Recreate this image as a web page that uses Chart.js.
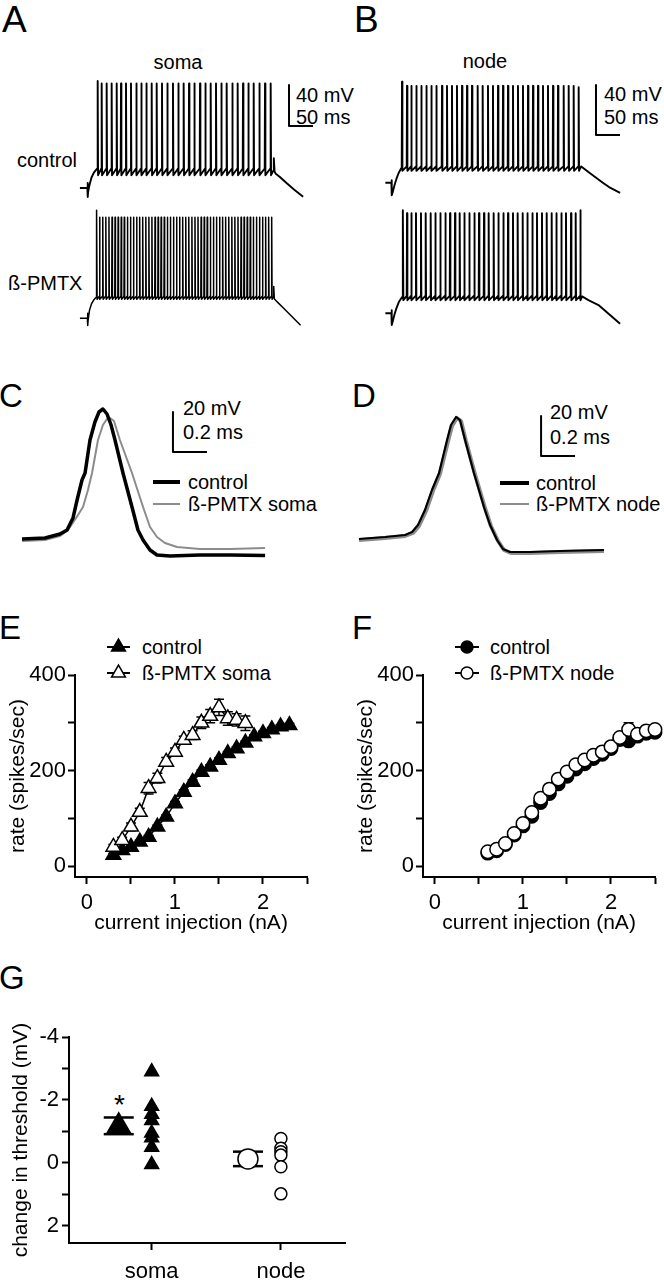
<!DOCTYPE html>
<html>
<head>
<meta charset="utf-8">
<script src="https://cdn.jsdelivr.net/npm/chart.js@4.4.1/dist/chart.umd.min.js"></script>
<style>
  body { margin: 0; background: #fff; }
  #fig { position: relative; width: 664px; height: 1280px; overflow: hidden;
         font-family: 'Liberation Sans', Arial, sans-serif; color: #000; background: #fff; }
  #fig canvas { position: absolute; }
  .t { position: absolute; font-size: 20px; line-height: 20px; white-space: nowrap; }
  .c { transform: translateX(-50%); }
  .p { position: absolute; font-size: 33px; line-height: 33px; }
  .sw { position: absolute; }
</style>
</head>
<body>
<div id="fig">
  <!-- panel letters -->
  <div class="p" style="left:2px;top:1px;font-size:37px;line-height:37px">A</div>
  <div class="p" style="left:354px;top:1px;font-size:37px;line-height:37px">B</div>
  <div class="p" style="left:-1px;top:379px">C</div>
  <div class="p" style="left:352px;top:379px">D</div>
  <div class="p" style="left:-1px;top:611px">E</div>
  <div class="p" style="left:352px;top:611px">F</div>
  <div class="p" style="left:-1px;top:961px">G</div>

  <!-- A / B labels -->
  <div class="t c" style="left:178px;top:52px">soma</div>
  <div class="t c" style="left:485px;top:51px">node</div>
  <div class="t" style="left:17px;top:150px">control</div>
  <div class="t" style="left:8px;top:273px">ß-PMTX</div>
  <div class="t" style="left:296px;top:85px">40 mV</div>
  <div class="t" style="left:296px;top:107px">50 ms</div>
  <div class="t" style="left:604px;top:84px">40 mV</div>
  <div class="t" style="left:604px;top:107px">50 ms</div>

  <!-- C / D labels -->
  <div class="t" style="left:183px;top:398px">20 mV</div>
  <div class="t" style="left:183px;top:422px">0.2 ms</div>
  <div class="sw" style="left:153px;top:480px;width:27px;height:4px;background:#000"></div>
  <div class="t" style="left:188px;top:472px">control</div>
  <div class="sw" style="left:153px;top:503px;width:27px;height:2px;background:#8c8c8c"></div>
  <div class="t" style="left:188px;top:494px">ß-PMTX soma</div>

  <div class="t" style="left:550px;top:402px">20 mV</div>
  <div class="t" style="left:550px;top:427px">0.2 ms</div>
  <div class="sw" style="left:500px;top:481px;width:29px;height:4px;background:#000"></div>
  <div class="t" style="left:536px;top:473px">control</div>
  <div class="sw" style="left:500px;top:503px;width:29px;height:2px;background:#8c8c8c"></div>
  <div class="t" style="left:536px;top:494px">ß-PMTX node</div>

  <!-- E / F legend text -->
  <div class="t" style="left:142px;top:637px">control</div>
  <div class="t" style="left:142px;top:663px">ß-PMTX soma</div>
  <div class="t" style="left:490px;top:637px">control</div>
  <div class="t" style="left:490px;top:663px">ß-PMTX node</div>

  <!-- G asterisk -->
  <div class="t" style="left:114px;top:1091px;font-size:28px;line-height:28px">*</div>

  <canvas id="cA" width="254" height="262" style="left:78px;top:70px"></canvas>
  <canvas id="cB" width="282" height="262" style="left:382px;top:70px"></canvas>
  <canvas id="cC" width="320" height="175" style="left:10px;top:395px"></canvas>
  <canvas id="cD" width="322" height="175" style="left:342px;top:395px"></canvas>
  <canvas id="cE" width="332" height="337" style="left:0px;top:600px"></canvas>
  <canvas id="cF" width="316" height="337" style="left:348px;top:600px"></canvas>
  <canvas id="cG" width="360" height="280" style="left:0px;top:1000px"></canvas>
</div>

<script>
// ---------- A / B : spike trains (ms, mV) ----------
const somaCtlSpikes = [21.0, 29.3, 39.7, 50.1, 60.6, 69.6, 80.0, 90.4, 101.5, 111.9, 122.4, 133.5,
  143.9, 155.0, 166.1, 177.9, 189.0, 200.1, 211.3, 222.4, 234.2, 245.3, 256.4, 267.5, 278.6,
  289.7, 301.5, 312.6, 323.8, 334.9, 346.0, 357.8, 369.6, 381.4];
const somaPmtxSpikes = [19.0, 25.0, 31.6, 38.0, 44.5, 50.9, 57.2, 63.6, 70.1, 76.4, 82.9, 89.3,
  95.6, 102.1, 108.5, 114.8, 121.3, 127.7, 134.0, 140.5, 146.9, 153.2, 159.7, 166.1, 172.4,
  178.9, 185.3, 191.6, 198.1, 204.5, 210.8, 217.3, 223.7, 230.0, 236.5, 242.9, 249.2, 255.7,
  262.1, 268.4, 274.9, 281.3, 287.6, 294.1, 300.5, 306.8, 313.3, 319.7, 326.0, 332.5, 338.9,
  345.2, 351.7, 358.1, 364.4, 370.9, 377.2, 383.5];
const nodeCtlSpikes = [21.7, 32.1, 41.1, 51.5, 61.9, 72.4, 82.8, 93.2, 105.0, 115.4, 125.8, 136.2,
  146.7, 157.1, 167.5, 179.3, 189.7, 200.8, 211.2, 221.7, 232.1, 242.5, 252.9, 263.3, 273.7,
  284.2, 294.6, 305.0, 315.4, 325.8, 336.3, 346.7, 358.5, 368.9, 379.3, 389.7];
const nodePmtxSpikes = [23.7, 32.1, 41.1, 50.8, 61.2, 71.0, 81.4, 91.1, 101.5, 112.0, 121.7, 132.1,
  141.8, 151.5, 161.9, 172.4, 182.1, 192.5, 202.2, 212.6, 222.4, 232.8, 242.5, 252.9, 262.6,
  273.1, 282.8, 293.2, 302.9, 313.3, 323.1, 333.5, 343.2, 353.6, 363.3, 373.8, 383.5, 393.2];

// voltage levels: first / other / last spike peak, pre-spike and after-spike trough
const somaCtlLv  = { first: 24.4, peak: 22.0, last: 22.0, thr: -61.0, ahp: -67.5 };
const somaPmtxLv = { first: 25.4, peak: 18.5, last: 18.5, thr: -58.5, ahp: -61.5 };
const nodeCtlLv  = { first: 0.8,  peak: -2.5, last: -3.5, thr: -67.0, ahp: -70.5 };
const nodePmtxLv = { first: 2.4,  peak: 0.0,  last: 2.4,  thr: -66.0, ahp: -69.5 };

// step onset (rest, artifact, charging) and step offset (decay)
const somaCtlOn   = [[-16, -80], [-0.4, -80], [0, -75], [0.5, -88.8], [1, -84], [4, -77], [8, -70], [13, -65], [19, -61.5]];
const somaCtlOff  = [[387, -63], [388, -51], [389.5, -64], [392, -66], [400, -69], [415, -75.4], [430, -81.5], [449, -88.5]];
const somaPmtxOn  = [[-16, -80], [-0.4, -80], [0, -75], [0.5, -87], [1, -82], [4, -72], [8, -66], [13, -62], [18, -59.5]];
const somaPmtxOff = [[387, -59], [387.8, -49], [389, -61], [395, -64], [410, -71], [425, -78], [443.7, -86.8]];
const nodeCtlOn   = [[-13, -80], [-0.4, -80], [0, -78], [0.5, -90], [2, -88], [6, -82], [10, -77], [15, -72], [20, -68.5]];
const nodeCtlOff  = [[395, -67], [410, -71.5], [424, -75.5], [440, -80], [453, -83.5], [476, -88.2]];
const nodePmtxOn  = [[-13, -80], [-0.4, -80], [0, -77.6], [0.5, -89.4], [2, -87], [6, -81], [10, -76], [15, -71], [22, -67]];
const nodePmtxOff = [[397, -66.5], [410, -69.5], [431, -73.4], [455, -81.4], [476, -88.3]];

// scale bars: [time, voltage] of the corner, lengths in ms and mV
const barA = { t: 419.6, v: -19.5, ms: 50, mV: 40 };
const barB = { t: 425.8, v: -41.8, ms: 50, mV: 40 };

// ---------- C / D : single spikes (ms, mV) ----------
const cCtl = [[0, -59.5], [0.135, -59], [0.224, -57], [0.265, -55], [0.3, -49], [0.324, -40], [0.353, -30],
  [0.371, -26.5], [0.4, -10], [0.429, -1], [0.453, 4], [0.476, 5.5], [0.5, 3], [0.524, -2.5], [0.547, -10],
  [0.594, -26.5], [0.647, -43.5], [0.682, -55], [0.712, -60], [0.753, -65], [0.794, -67.5], [0.871, -68],
  [1.047, -67.5], [1.224, -67.5], [1.43, -67.8]];
const cPmtx = [[0, -60.5], [0.135, -60], [0.224, -58], [0.271, -55], [0.318, -49], [0.359, -43.5], [0.388, -35],
  [0.412, -26.5], [0.447, -10], [0.476, -2.5], [0.5, 0.5], [0.518, 1], [0.541, -0.5], [0.576, -10],
  [0.647, -26.5], [0.712, -43.5], [0.753, -53.5], [0.794, -58.5], [0.841, -61.5], [0.912, -63.5],
  [1.047, -64.5], [1.224, -64.5], [1.43, -64]];
const dCtl = [[0, -59.5], [0.153, -58.5], [0.271, -57.5], [0.312, -56], [0.347, -52.5], [0.388, -45],
  [0.429, -35], [0.471, -26.5], [0.518, -10], [0.541, -2.5], [0.571, 1.5], [0.594, 0], [0.624, -10],
  [0.676, -26.5], [0.735, -43.5], [0.771, -52.5], [0.812, -60], [0.847, -64.5], [0.888, -66],
  [1.006, -66], [1.182, -65.5], [1.441, -65]];
const dPmtx = [[0, -60], [0.153, -59], [0.271, -58], [0.318, -56.5], [0.353, -53], [0.394, -45.5],
  [0.435, -35.5], [0.476, -27], [0.524, -10.5], [0.547, -3], [0.576, 1], [0.6, -0.5], [0.629, -10.5],
  [0.682, -27], [0.741, -44], [0.776, -53], [0.818, -60.5], [0.853, -65], [0.894, -66.5],
  [1.006, -66.5], [1.182, -66], [1.441, -65.5]];
const barC = { t: 0.888, v: -16, ms: 0.2, mV: 20 };
const barD = { t: 1.071, v: -18, ms: 0.2, mV: 20 };

// ---------- E / F : rate vs current ----------
const eCtlCurrent = [0.3, 0.4, 0.5, 0.6, 0.7, 0.8, 0.9, 1.0, 1.1, 1.2, 1.3, 1.4, 1.5, 1.6, 1.7, 1.8, 1.9, 2.0, 2.1, 2.2, 2.3];
const eCtlRate    = [23, 33, 40, 51, 61, 82, 103, 131, 155, 176, 197, 208, 222, 236, 246, 258, 271, 278, 286, 292, 295];
const eCtlErr     = [3, 3, 3, 3, 3, 4, 4, 4, 4, 4, 4, 4, 4, 4, 4, 4, 4, 4, 4, 4, 4];
const ePmtxCurrent = [0.3, 0.4, 0.5, 0.6, 0.7, 0.8, 0.9, 1.0, 1.1, 1.2, 1.3, 1.4, 1.5, 1.6, 1.7, 1.8];
const ePmtxRate    = [40, 54, 82, 113, 163, 184, 218, 239, 264, 274, 300, 314, 332, 309, 306, 299];
const ePmtxErr     = [5, 6, 8, 8, 12, 10, 9, 8, 8, 9, 12, 14, 17, 14, 13, 15];

const fCurrent  = [0.6, 0.7, 0.8, 0.9, 1.0, 1.1, 1.2, 1.3, 1.4, 1.5, 1.6, 1.7, 1.8, 1.9, 2.0, 2.1, 2.2, 2.3, 2.4, 2.5];
const fCtlRate  = [27, 32, 45, 65, 84, 104, 133, 152, 172, 188, 203, 214, 225, 234, 246, 265, 262, 272, 278, 280];
const fPmtxRate = [30, 35, 47, 68, 89, 112, 142, 161, 182, 197, 212, 222, 232, 239, 250, 269, 286, 276, 283, 286];
const fPmtxErr  = [3, 3, 3, 4, 4, 5, 5, 5, 5, 5, 5, 5, 5, 5, 5, 6, 14, 6, 6, 6];

const fiXTicks  = [0, 0.5, 1, 1.5, 2, 2.5];
const fiXLabels = ['0', '', '1', '', '2', ''];
const fiYTicks  = [0, 100, 200, 300, 400];
const fiYLabels = ['0', '', '200', '', '400'];

// ---------- G : threshold change ----------
const gGroups    = ['soma', 'node'];
const gSomaCells = [-2.9, -1.8, -1.55, -1.35, -0.95, -0.8, -0.5, 0.05];
const gNodeCells = [-0.78, -0.47, -0.36, -0.25, 0.12, 0.98];
const gMean      = [-1.18, -0.13];
const gSem       = [0.265, 0.23];
const gMeanShift = -0.255;
const gYTicks    = [-4, -3, -2, -1, 0, 1, 2];
const gYLabels   = ['-4', '', '-2', '', '0', '', '2'];

// ============================================================
Chart.defaults.font.family = "'Liberation Sans', Arial, sans-serif";
Chart.defaults.font.size = 20;
Chart.defaults.color = '#000';
Chart.defaults.animation = false;
Chart.defaults.events = [];
Chart.defaults.plugins.legend.display = false;
Chart.defaults.plugins.tooltip.enabled = false;

const pts = arr => arr.map(([x, y]) => ({ x, y }));

function buildTrain(onset, spikes, lv, offset) {
  const out = pts(onset);
  spikes.forEach((t, i) => {
    const pk = i === 0 ? lv.first : (i === spikes.length - 1 ? lv.last : lv.peak);
    out.push({ x: t - 0.6, y: lv.thr }, { x: t, y: pk }, { x: t + 0.8, y: lv.ahp });
  });
  return out.concat(pts(offset));
}

function barPts(b) {
  return [{ x: b.t, y: b.v + b.mV }, { x: b.t, y: b.v }, { x: b.t + b.ms, y: b.v }];
}

// value range of a hidden axis from a pixel anchor (page px)
function span(anchorPx, anchorVal, pxPer, top, height) {
  return [anchorVal - (top + height - anchorPx) / pxPer, anchorVal + (anchorPx - top) / pxPer];
}

function line(data, color, width, axis) {
  return { data, yAxisID: axis || 'y', showLine: true, borderColor: color, borderWidth: width,
           pointRadius: 0, tension: 0, clip: false, borderJoinStyle: 'round' };
}

function traceChart(id, datasets, xr, yr, y2r) {
  const scales = {
    x: { type: 'linear', display: false, min: xr[0], max: xr[1] },
    y: { type: 'linear', display: false, min: yr[0], max: yr[1] }
  };
  if (y2r) scales.y2 = { type: 'linear', display: false, min: y2r[0], max: y2r[1] };
  return new Chart(document.getElementById(id), {
    type: 'scatter',
    data: { datasets },
    options: { responsive: false, devicePixelRatio: 1, layout: { padding: 0 }, scales }
  });
}

// A: soma trains
traceChart('cA', [
  line(buildTrain(somaCtlOn, somaCtlSpikes, somaCtlLv, somaCtlOff), '#000', 1.9),
  line(buildTrain(somaPmtxOn, somaPmtxSpikes, somaPmtxLv, somaPmtxOff), '#000', 1.5, 'y2'),
  line(barPts(barA), '#000', 2)
], [-20, -20 + 254 / 0.48], span(188, -80, 1.025, 70, 262), span(318.3, -80, 1.025, 70, 262));

// B: node trains
traceChart('cB', [
  line(buildTrain(nodeCtlOn, nodeCtlSpikes, nodeCtlLv, nodeCtlOff), '#000', 1.9),
  line(buildTrain(nodePmtxOn, nodePmtxSpikes, nodePmtxLv, nodePmtxOff), '#000', 1.9, 'y2'),
  line(barPts(barB), '#000', 2)
], [-20, -20 + 282 / 0.48], span(182.7, -80, 1.25, 70, 262), span(313.3, -80, 1.25, 70, 262));

// C / D: spike shapes (first dataset is drawn on top)
traceChart('cC', [
  line(pts(cCtl), '#000', 3.5),
  line(pts(cPmtx), '#8c8c8c', 2),
  line(barPts(barC), '#000', 2)
], [(10 - 22) / 170, (330 - 22) / 170], span(540, -60, 2, 395, 175));

traceChart('cD', [
  line(pts(dCtl), '#000', 2.2),
  line(pts(dPmtx), '#8c8c8c', 4),
  line(barPts(barD), '#000', 2)
], [(342 - 359) / 170, (664 - 359) / 170], span(540, -60, 2, 395, 175));

// ---------- plugins ----------
function marker(ctx, style, x, y, r, fill) {
  ctx.save();
  ctx.fillStyle = fill; ctx.strokeStyle = '#000'; ctx.lineWidth = 1.5;
  if (Chart.helpers && Chart.helpers.drawPoint) {
    Chart.helpers.drawPoint(ctx, { pointStyle: style, radius: r, rotation: 0, borderWidth: 1.5 }, x, y);
  } else {
    ctx.beginPath();
    if (style === 'circle') ctx.arc(x, y, r, 0, Math.PI * 2);
    else { ctx.moveTo(x, y - r); ctx.lineTo(x + r * 0.866, y + r / 2); ctx.lineTo(x - r * 0.866, y + r / 2); ctx.closePath(); }
    ctx.fill(); ctx.stroke();
  }
  ctx.restore();
}

const keySymbols = {
  id: 'keySymbols',
  afterDraw(chart, args, opts) {
    if (!opts.items) return;
    const ctx = chart.ctx;
    opts.items.forEach(it => {
      ctx.save();
      ctx.strokeStyle = '#000'; ctx.lineWidth = 2;
      ctx.beginPath(); ctx.moveTo(opts.x0, it.y); ctx.lineTo(opts.x1, it.y); ctx.stroke();
      ctx.restore();
      marker(ctx, it.style, (opts.x0 + opts.x1) / 2, it.y, it.r, it.fill);
    });
  }
};

const errorBars = {
  id: 'errorBars',
  beforeDatasetsDraw(chart) {
    const { ctx, scales: { x, y } } = chart;
    ctx.save(); ctx.strokeStyle = '#000'; ctx.lineWidth = 1.5;
    chart.data.datasets.forEach(ds => {
      if (!ds.errors) return;
      ds.data.forEach((p, i) => {
        const e = ds.errors[i];
        if (!e) return;
        const px = x.getPixelForValue(p.x);
        const hi = y.getPixelForValue(p.y + e), lo = y.getPixelForValue(p.y - e);
        ctx.beginPath();
        ctx.moveTo(px, hi); ctx.lineTo(px, lo);
        ctx.moveTo(px - 5, hi); ctx.lineTo(px + 5, hi);
        ctx.moveTo(px - 5, lo); ctx.lineTo(px + 5, lo);
        ctx.stroke();
      });
    });
    ctx.restore();
  }
};

const meanCaps = {
  id: 'meanCaps',
  beforeDatasetsDraw(chart) {
    const { ctx, scales: { x, y } } = chart;
    ctx.save(); ctx.strokeStyle = '#000'; ctx.lineWidth = 2.5;
    gMean.forEach((m, i) => {
      const px = x.getPixelForValue(i + 1 + gMeanShift);
      [m - gSem[i], m + gSem[i]].forEach(v => {
        const py = y.getPixelForValue(v);
        ctx.beginPath(); ctx.moveTo(px - 15, py); ctx.lineTo(px + 15, py); ctx.stroke();
      });
    });
    ctx.restore();
  }
};

function axis(o) {
  return {
    type: 'linear', min: o.min, max: o.max, reverse: !!o.reverse,
    afterBuildTicks: s => { s.ticks = o.ticks.map(v => ({ value: v })); },
    afterFit: o.fit,
    border: { display: true, color: '#000', width: 2 },
    grid: { drawOnChartArea: false, drawTicks: true, tickLength: 7, tickWidth: 2, tickColor: '#000', color: '#000' },
    ticks: { color: '#000', padding: o.pad, maxRotation: 0, autoSkip: false,
             font: { size: 22 }, callback: (v, i) => o.labels[i] },
    title: o.title ? { display: true, text: o.title, color: '#000', font: { size: 21 },
                       padding: o.titlePad } : { display: false }
  };
}

function fiChart(id, datasets, padRight, key) {
  return new Chart(document.getElementById(id), {
    type: 'scatter',
    data: { datasets },
    options: {
      responsive: false, devicePixelRatio: 1,
      layout: { padding: { top: 75, right: padRight, bottom: 0, left: 0 } },
      plugins: { keySymbols: key },
      scales: {
        x: axis({ min: -0.136, max: 2.5, ticks: fiXTicks, labels: fiXLabels, pad: 6,
                  fit: s => { s.height = 60; }, title: 'current injection (nA)', titlePad: { top: 0, bottom: 1 } }),
        y: axis({ min: -23, max: 400, ticks: fiYTicks, labels: fiYLabels, pad: 2,
                  fit: s => { s.width = 75; }, title: 'rate (spikes/sec)', titlePad: { top: 6, bottom: 0 } })
      }
    },
    plugins: [errorBars, keySymbols]
  });
}

function fiSet(xs, ys, errs, style, r, fill) {
  return { data: xs.map((x, i) => ({ x, y: ys[i] })), errors: errs, showLine: true,
           borderColor: '#000', borderWidth: 1.5, tension: 0, clip: false,
           pointStyle: style, pointRadius: r, pointBackgroundColor: fill,
           pointBorderColor: '#000', pointBorderWidth: 1.5 };
}

// E
fiChart('cE', [
  fiSet(ePmtxCurrent, ePmtxRate, ePmtxErr, 'triangle', 8.5, '#fff'),
  fiSet(eCtlCurrent, eCtlRate, eCtlErr, 'triangle', 8.5, '#000')
], 25, { x0: 107, x1: 130, items: [
  { y: 47, style: 'triangle', r: 8, fill: '#000' },
  { y: 73, style: 'triangle', r: 8, fill: '#fff' }
] });

// F
fiChart('cF', [
  fiSet(fCurrent, fPmtxRate, fPmtxErr, 'circle', 6.7, '#fff'),
  fiSet(fCurrent, fCtlRate, null, 'circle', 6.7, '#000')
], 9, { x0: 107, x1: 131, items: [
  { y: 47, style: 'circle', r: 6, fill: '#000' },
  { y: 73, style: 'circle', r: 6, fill: '#fff' }
] });

// G
const gPt = (style, r, fill) => ({ pointStyle: style, pointRadius: r, pointBackgroundColor: fill,
  pointBorderColor: '#000', pointBorderWidth: 1.5, showLine: false, clip: false });
new Chart(document.getElementById('cG'), {
  type: 'scatter',
  data: { datasets: [
    Object.assign({ data: gSomaCells.map(v => ({ x: 1, y: v })) }, gPt('triangle', 8, '#000')),
    Object.assign({ data: [{ x: 1 + gMeanShift, y: gMean[0] }] }, gPt('triangle', 13, '#000')),
    Object.assign({ data: gNodeCells.map(v => ({ x: 2, y: v })) }, gPt('circle', 6, '#fff')),
    Object.assign({ data: [{ x: 2 + gMeanShift, y: gMean[1] }] }, gPt('circle', 10, '#fff'))
  ] },
  options: {
    responsive: false, devicePixelRatio: 1,
    layout: { padding: { top: 37, right: 13, bottom: 0, left: 0 } },
    scales: {
      x: axis({ min: 0.36, max: 2.5, ticks: [1, 2], labels: gGroups, pad: 9,
                fit: s => { s.height = 37; } }),
      y: axis({ min: -4, max: 2.54, reverse: true, ticks: gYTicks, labels: gYLabels, pad: 3,
                fit: s => { s.width = 69; }, title: 'change in threshold (mV)', titlePad: { top: 9, bottom: 0 } })
    }
  },
  plugins: [meanCaps]
});
</script>
</body>
</html>
